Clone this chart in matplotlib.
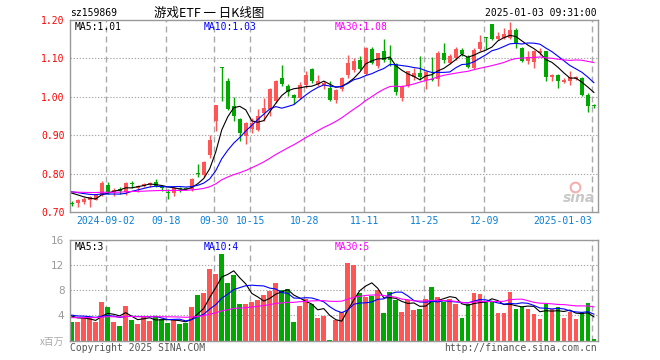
import pandas as pd
import matplotlib
matplotlib.use("Agg")
import matplotlib.pyplot as plt

plt.rcParams["font.family"] = ["DejaVu Sans Mono", "Noto Sans CJK SC"]
plt.rcParams["lines.scale_dashes"] = False

# daily OHLC, 2024-08-23 .. 2025-01-03
open_ = [0.723, 0.723, 0.727, 0.730, 0.732, 0.745, 0.770, 0.752, 0.760, 0.752,
         0.775, 0.763, 0.768, 0.770, 0.778, 0.768, 0.751, 0.750, 0.760, 0.762,
         0.761, 0.801, 0.796, 0.848, 0.936, 1.077, 1.040, 0.975, 0.943, 0.897,
         0.915, 0.914, 0.958, 0.967, 0.989, 1.049, 1.029, 1.004, 0.998, 1.031,
         1.072, 1.034, 1.030, 1.022, 0.991, 1.020, 1.056, 1.069, 1.096, 1.060,
         1.124, 1.080, 1.118, 1.100, 1.085, 0.997, 1.029, 1.052, 1.062, 1.044,
         1.046, 1.047, 1.115, 1.089, 1.100, 1.122, 1.104, 1.075, 1.124, 1.155,
         1.189, 1.150, 1.154, 1.154, 1.175, 1.128, 1.093, 1.091, 1.113, 1.118,
         1.051, 1.058, 1.038, 1.041, 1.047, 1.049, 1.004, 0.976]
close_ = [0.721, 0.731, 0.733, 0.739, 0.746, 0.775, 0.752, 0.758, 0.755, 0.775,
          0.774, 0.767, 0.773, 0.776, 0.767, 0.762, 0.749, 0.762, 0.759, 0.761,
          0.787, 0.799, 0.830, 0.887, 0.978, 1.075, 0.969, 0.949, 0.905, 0.932,
          0.932, 0.951, 0.970, 1.020, 1.042, 1.034, 1.012, 0.997, 1.031, 1.058,
          1.040, 1.040, 1.035, 0.991, 1.018, 1.050, 1.087, 1.094, 1.073, 1.126,
          1.088, 1.113, 1.096, 1.095, 1.013, 1.029, 1.066, 1.063, 1.051, 1.064,
          1.044, 1.115, 1.096, 1.106, 1.124, 1.111, 1.078, 1.122, 1.144, 1.153,
          1.150, 1.159, 1.163, 1.175, 1.138, 1.093, 1.104, 1.118, 1.118, 1.051,
          1.058, 1.040, 1.044, 1.051, 1.051, 1.004, 0.976, 0.975]
high_ = [0.728, 0.734, 0.738, 0.742, 0.748, 0.782, 0.778, 0.762, 0.764, 0.777,
         0.782, 0.770, 0.776, 0.778, 0.785, 0.770, 0.760, 0.765, 0.764, 0.766,
         0.789, 0.824, 0.832, 0.900, 0.978, 1.077, 1.048, 1.000, 0.945, 0.935,
         0.945, 0.968, 0.998, 1.022, 1.045, 1.082, 1.034, 1.006, 1.038, 1.067,
         1.075, 1.057, 1.040, 1.042, 1.020, 1.052, 1.109, 1.100, 1.105, 1.130,
         1.130, 1.115, 1.150, 1.135, 1.088, 1.030, 1.068, 1.075, 1.106, 1.068,
         1.104, 1.118, 1.140, 1.112, 1.130, 1.126, 1.108, 1.126, 1.161, 1.157,
         1.190, 1.170, 1.178, 1.196, 1.178, 1.130, 1.118, 1.122, 1.128, 1.120,
         1.060, 1.060, 1.050, 1.068, 1.055, 1.052, 1.010, 0.980]
low_ = [0.716, 0.712, 0.720, 0.713, 0.730, 0.742, 0.748, 0.742, 0.748, 0.745,
        0.762, 0.752, 0.765, 0.765, 0.765, 0.755, 0.735, 0.742, 0.752, 0.756,
        0.754, 0.790, 0.792, 0.840, 0.910, 0.990, 0.965, 0.936, 0.885, 0.878,
        0.905, 0.910, 0.936, 0.950, 0.985, 1.027, 1.003, 0.980, 0.994, 1.022,
        1.036, 1.027, 1.020, 0.989, 0.985, 1.015, 1.050, 1.065, 1.070, 1.058,
        1.085, 1.075, 1.090, 1.080, 1.005, 0.988, 1.025, 1.045, 1.045, 1.020,
        1.040, 1.027, 1.088, 1.085, 1.095, 1.105, 1.075, 1.072, 1.120, 1.125,
        1.148, 1.147, 1.150, 1.150, 1.128, 1.090, 1.085, 1.075, 1.110, 1.042,
        1.040, 1.022, 1.035, 1.030, 1.044, 1.002, 0.960, 0.970]
# volume, x百万
volume = [2.9, 2.9, 3.7, 3.6, 2.9, 6.1, 5.3, 3.0, 2.3, 5.5,
          3.2, 2.6, 3.7, 3.1, 3.7, 3.4, 2.8, 3.3, 2.6, 2.8,
          5.3, 7.2, 7.6, 11.4, 10.6, 13.8, 9.2, 10.5, 5.8, 5.8,
          6.2, 6.4, 7.2, 7.9, 9.2, 8.0, 8.2, 2.9, 5.5, 6.6,
          5.8, 3.6, 3.9, 0.1, 3.2, 4.6, 12.4, 12.0, 7.5, 6.9,
          7.1, 8.0, 4.4, 7.7, 6.4, 4.6, 6.4, 4.8, 5.0, 6.6,
          8.5, 7.0, 6.2, 6.6, 5.8, 3.6, 5.8, 7.6, 7.4, 6.2,
          6.2, 4.4, 4.4, 7.7, 5.0, 5.3, 5.0, 4.2, 3.4, 5.8,
          5.0, 5.3, 3.6, 4.5, 3.4, 4.6, 6.0, 0.3]
# sessions before the window, only to seed the moving averages
prior_close = [0.742, 0.746, 0.750, 0.748, 0.753, 0.757, 0.754, 0.749, 0.746, 0.750,
               0.755, 0.758, 0.753, 0.750, 0.748, 0.752, 0.756, 0.759, 0.755, 0.751,
               0.754, 0.757, 0.760, 0.756, 0.753, 0.755, 0.758, 0.757, 0.756]
prior_vol = [3.2, 3.6, 3.0, 3.4, 3.8, 3.1, 3.5, 3.3, 2.9, 3.6,
             3.4, 3.2, 3.7, 3.9, 3.1, 3.5, 3.3, 3.6, 3.8, 4.0,
             4.3, 3.9, 4.5, 4.0, 4.2, 4.4, 3.8, 4.3, 4.1]

date_idx = [6, 16, 24, 30, 39, 49, 59, 69, 87]
date_lbl = ["2024-09-02", "09-18", "09-30", "10-15", "10-28", "11-11", "11-25", "12-09", "2025-01-03"]
price_ticks = [0.70, 0.80, 0.90, 1.00, 1.10, 1.20]
vol_ticks = [4, 8, 12, 16]

RED = "#ff5555"
GREEN = "#00a800"
MA_COLORS = ["black", "#0000ff", "#ff00ff"]
GRID = "#aaaaaa"

n = len(close_)
xs = list(range(n))
cols = [RED if c > o else GREEN for o, c in zip(open_, close_)]

def moving(prior, vals, w):
    s = pd.Series(prior + vals).rolling(w).mean()
    return s.iloc[len(prior):].values

fig = plt.figure(figsize=(6.6, 3.6), dpi=100)
ax = fig.add_axes([70 / 660, 1 - 212 / 360, 527.5 / 660, 192 / 360])
axv = fig.add_axes([70 / 660, 1 - 340.5 / 360, 527.5 / 660, 100.5 / 360])

for a in (ax, axv):
    a.set_xlim(-0.28, 87.6)
    for sp in a.spines.values():
        sp.set_color("#999999")
        sp.set_linewidth(1)
    a.set_xticks([])
    for d in date_idx:
        a.axvline(d - 0.28, color=GRID, lw=1, dashes=(4.3, 2.9), zorder=0)

# price panel
ax.set_ylim(0.70, 1.20)
for y in price_ticks[1:-1]:
    ax.axhline(y, color=GRID, lw=0.8, dashes=(1, 1.2), zorder=0)
ax.vlines(xs, low_, high_, colors=cols, lw=1, zorder=2)
bot = [min(o, c) for o, c in zip(open_, close_)]
hgt = [max(abs(c - o), 0.0026) for o, c in zip(open_, close_)]
ax.bar(xs, hgt, bottom=bot, width=0.7, color=cols, lw=0, zorder=3)
for w, c in zip([5, 10, 30], MA_COLORS):
    ax.plot(xs, moving(prior_close, close_, w), color=c, lw=0.8, zorder=4)
ax.set_yticks(price_ticks)
ax.set_yticklabels(["%.2f" % t for t in price_ticks])
ax.tick_params(axis="y", length=0, pad=4, colors="red", labelsize=7)

for d, lbl in zip(date_idx, date_lbl):
    ha = "right" if d == date_idx[-1] else "center"
    ax.text(d - 0.28, -0.045, lbl, transform=ax.get_xaxis_transform(), ha=ha, va="center",
            color="#0a7fd6", fontsize=7)

ax.text(0.008, 0.965, "MA5:1.01", transform=ax.transAxes, fontsize=7, color=MA_COLORS[0], va="center")
ax.text(0.253, 0.965, "MA10:1.03", transform=ax.transAxes, fontsize=7, color=MA_COLORS[1], va="center")
ax.text(0.502, 0.965, "MA30:1.08", transform=ax.transAxes, fontsize=7, color=MA_COLORS[2], va="center")

# sina watermark
ax.text(0.995, 0.075, "sina", transform=ax.transAxes, ha="right", va="center", fontsize=10,
        fontweight="bold", style="italic", color="#c8c8c8", family="DejaVu Sans", zorder=1)
ax.plot([0.957], [0.13], transform=ax.transAxes, marker="o", ms=7, mfc="none", mec="#f4b0b0",
        mew=1.5, zorder=1)

# volume panel
axv.set_ylim(0, 16)
for y in vol_ticks[:-1]:
    axv.axhline(y, color=GRID, lw=0.8, dashes=(1, 1.2), zorder=0)
axv.bar(xs, volume, width=0.78, color=cols, lw=0, zorder=2)
for w, c in zip([5, 10, 30], MA_COLORS):
    axv.plot(xs, moving(prior_vol, volume, w), color=c, lw=0.8, zorder=4)
axv.set_yticks(vol_ticks)
axv.set_yticklabels([str(t) for t in vol_ticks], family="DejaVu Sans")
axv.tick_params(axis="y", length=0, pad=4, colors="#999999", labelsize=7.5)

axv.text(0.008, 0.93, "MA5:3", transform=axv.transAxes, fontsize=7, color=MA_COLORS[0], va="center")
axv.text(0.253, 0.93, "MA10:4", transform=axv.transAxes, fontsize=7, color=MA_COLORS[1], va="center")
axv.text(0.502, 0.93, "MA30:5", transform=axv.transAxes, fontsize=7, color=MA_COLORS[2], va="center")

# header / footer texts
fig.text(70 / 660, 1 - 13 / 360, "sz159869", fontsize=7, va="center", ha="left")
fig.text(209 / 660, 1 - 13 / 360, "游戏ETF 一 日K线图", fontsize=9, va="center", ha="center",
         family=["Noto Sans CJK SC", "DejaVu Sans"])
fig.text(597 / 660, 1 - 13 / 360, "2025-01-03 09:31:00", fontsize=7, va="center", ha="right")
fig.text(64 / 660, 1 - 342 / 360, "x百万", fontsize=7, va="center", ha="right", color="#aaaaaa",
         family=["Noto Sans CJK SC", "DejaVu Sans"])
fig.text(70 / 660, 1 - 348 / 360, "Copyright 2025 SINA.COM", fontsize=7, va="center", ha="left",
         color="#555555")
fig.text(597 / 660, 1 - 348 / 360, "http://finance.sina.com.cn", fontsize=7, va="center", ha="right",
         color="#555555")

fig.savefig("out.png", dpi=100)
